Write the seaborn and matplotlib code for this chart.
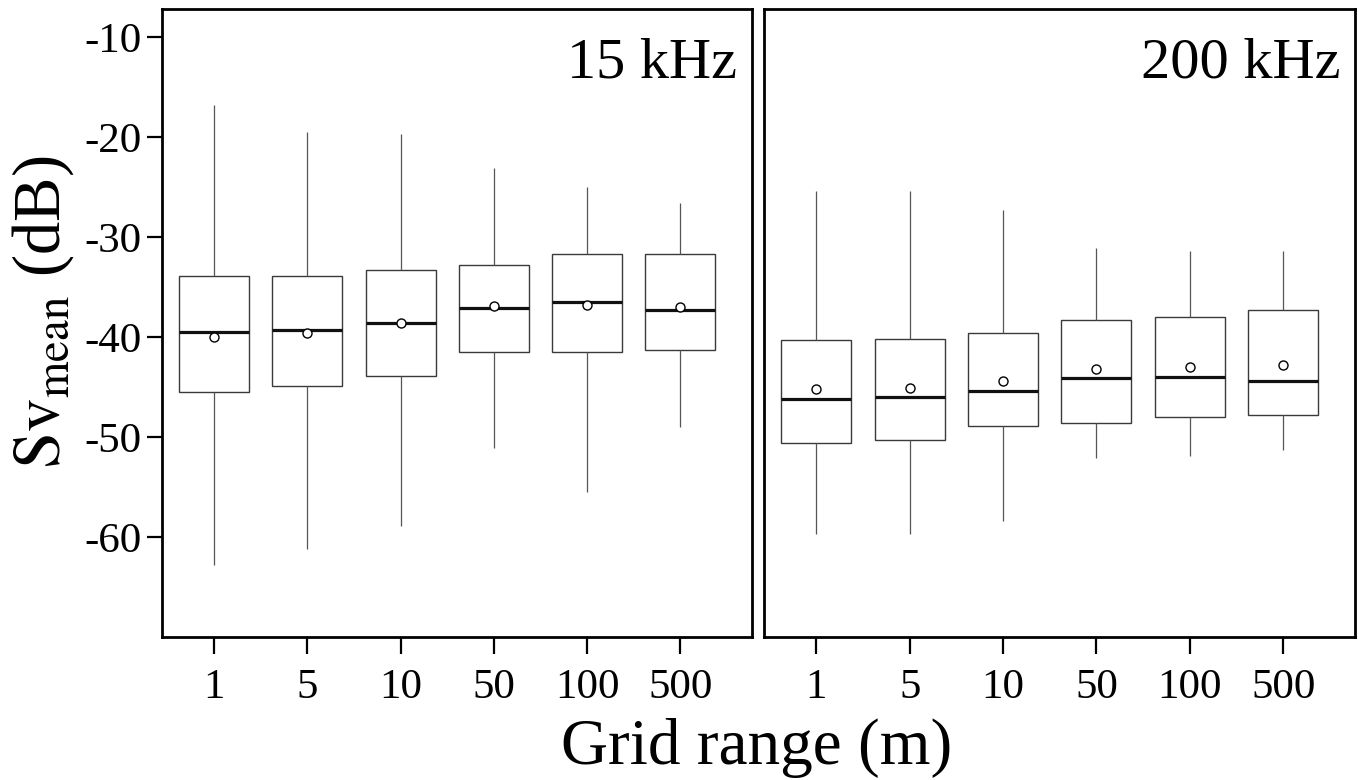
import numpy as np
import pandas as pd
import matplotlib
matplotlib.use("Agg")
import matplotlib.pyplot as plt
import seaborn as sns

# grid ranges (m)
grid = ["1", "5", "10", "50", "100", "500"]

# 15 kHz box summaries (dB)
lo_15 = [-62.8, -61.2, -58.9, -51.1, -55.5, -49.0]
q1_15 = [-45.5, -44.9, -43.9, -41.5, -41.5, -41.3]
med_15 = [-39.5, -39.3, -38.6, -37.1, -36.5, -37.3]
q3_15 = [-33.9, -33.9, -33.3, -32.8, -31.7, -31.7]
hi_15 = [-16.8, -19.5, -19.7, -23.1, -25.0, -26.6]
mean_15 = [-40.0, -39.6, -38.6, -36.9, -36.8, -37.0]

# 200 kHz box summaries (dB)
lo_200 = [-59.7, -59.7, -58.4, -52.1, -51.9, -51.3]
q1_200 = [-50.6, -50.3, -48.9, -48.6, -48.0, -47.8]
med_200 = [-46.2, -46.0, -45.4, -44.1, -44.0, -44.4]
q3_200 = [-40.3, -40.2, -39.6, -38.3, -38.0, -37.3]
hi_200 = [-25.4, -25.4, -27.3, -31.1, -31.4, -31.4]
mean_200 = [-45.2, -45.1, -44.4, -43.2, -43.0, -42.8]


def summary_frame(lo, q1, med, q3, hi):
    # five values per box, so the box quartiles land on q1/med/q3
    rows = []
    for i, g in enumerate(grid):
        for v in (lo[i], q1[i], med[i], q3[i], hi[i]):
            rows.append((g, v))
    return pd.DataFrame(rows, columns=["grid", "sv"])


sns.set_style("ticks")
plt.rcParams["font.family"] = ["Liberation Serif", "DejaVu Serif"]
plt.rcParams["mathtext.fontset"] = "stix"
plt.rcParams["axes.unicode_minus"] = False
plt.rcParams["text.color"] = "black"
plt.rcParams["xtick.color"] = "black"
plt.rcParams["ytick.color"] = "black"
plt.rcParams["xtick.labelcolor"] = "black"
plt.rcParams["ytick.labelcolor"] = "black"

fig = plt.figure(figsize=(13.59, 7.80), dpi=100)
ax1 = fig.add_axes([0.1192, 0.1827, 0.4342, 0.8058])
ax2 = fig.add_axes([0.5622, 0.1827, 0.4349, 0.8058])

panels = [
    (ax1, summary_frame(lo_15, q1_15, med_15, q3_15, hi_15), mean_15, "15 kHz"),
    (ax2, summary_frame(lo_200, q1_200, med_200, q3_200, hi_200), mean_200, "200 kHz"),
]

for ax, df, means, label in panels:
    sns.boxplot(data=df, x="grid", y="sv", order=grid, ax=ax,
                color="white", linecolor="#3a3a3a", linewidth=1.0,
                width=0.75, whis=np.inf, showcaps=False,
                medianprops={"color": "#111111", "linewidth": 2.3},
                whiskerprops={"color": "#555555", "linewidth": 0.9})
    sns.stripplot(x=grid, y=means, order=grid, ax=ax, jitter=False,
                  color="white", edgecolor="black", linewidth=1.0,
                  size=6.5, zorder=5)
    ax.set_xlim(-0.56, 5.77)
    ax.set_ylim(-70, -7.2)
    ax.set_xlabel("")
    ax.set_ylabel("")
    for s in ax.spines.values():
        s.set_visible(True)
        s.set_linewidth(2.0)
        s.set_color("black")
    ax.tick_params(axis="x", direction="out", length=12, width=1.6,
                   labelsize=31, pad=10)
    ax.text(0.975, 0.955, label, transform=ax.transAxes, ha="right",
            va="top", fontsize=42)

ax1.set_yticks([-10, -20, -30, -40, -50, -60])
ax1.tick_params(axis="y", direction="out", length=11, width=1.6,
                labelsize=31, pad=4)
ax2.set_yticks([])

fig.text(0.032, 0.60, r"$\mathrm{Sv}_{\mathrm{mean}}$ (dB)", rotation=90,
         ha="center", va="center", fontsize=48)
fig.text(0.557, 0.002, "Grid range (m)", ha="center", va="bottom",
         fontsize=47)

fig.savefig("out.png", dpi=100)
